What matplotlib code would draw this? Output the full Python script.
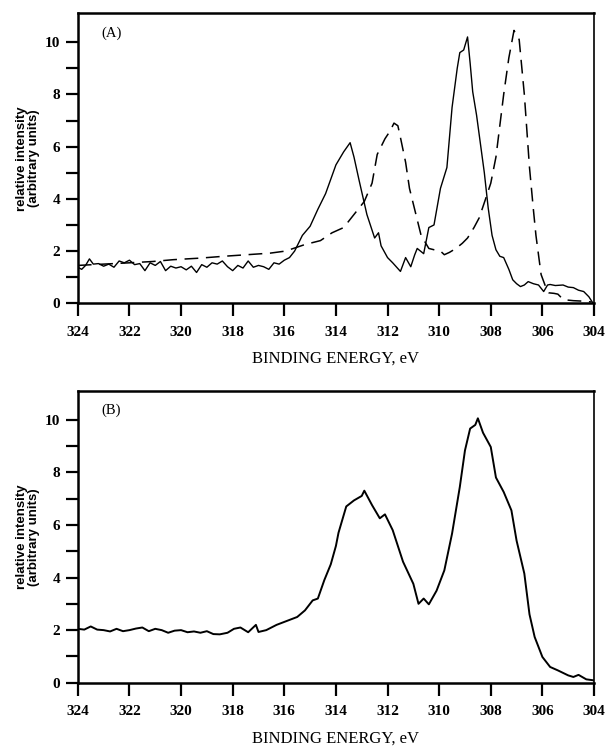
import numpy as np
from matplotlib import pyplot as plt

# ---- panel A, solid curve ----
a_solid_x = [324.0, 323.85, 323.7, 323.55, 323.4, 323.2, 323.0, 322.8, 322.6, 322.4,
             322.2, 322.0, 321.8, 321.6, 321.4, 321.2, 321.0, 320.8, 320.6, 320.4,
             320.2, 320.0, 319.8, 319.6, 319.4, 319.2, 319.0, 318.8, 318.6, 318.4,
             318.2, 318.0, 317.8, 317.6, 317.4, 317.2, 317.0, 316.8, 316.6, 316.4,
             316.2, 316.0, 315.8, 315.6, 315.5, 315.3, 315.0, 314.7, 314.4, 314.0,
             313.7, 313.45, 313.3, 313.1, 312.8, 312.5, 312.35, 312.25, 312.0, 311.8,
             311.5, 311.3, 311.1, 310.95, 310.85, 310.6, 310.4, 310.2, 309.95, 309.7,
             309.5, 309.3, 309.2, 309.05, 308.9, 308.8, 308.7, 308.55, 308.4, 308.25,
             308.1, 307.95, 307.8, 307.65, 307.5, 307.3, 307.15, 307.0, 306.85, 306.7,
             306.55, 306.35, 306.15, 305.95, 305.8, 305.7, 305.5, 305.2, 305.0, 304.8,
             304.6, 304.4, 304.2, 304.05]
a_solid_y = [1.38, 1.30, 1.45, 1.70, 1.50, 1.52, 1.42, 1.50, 1.38, 1.62,
             1.55, 1.65, 1.48, 1.52, 1.25, 1.55, 1.45, 1.60, 1.25, 1.42,
             1.35, 1.40, 1.28, 1.42, 1.18, 1.48, 1.38, 1.55, 1.50, 1.62,
             1.40, 1.25, 1.45, 1.35, 1.62, 1.38, 1.45, 1.40, 1.30, 1.55,
             1.50, 1.65, 1.75, 2.00, 2.20, 2.60, 2.95, 3.60, 4.20, 5.30,
             5.80, 6.15, 5.60, 4.70, 3.40, 2.50, 2.70, 2.20, 1.75, 1.55,
             1.22, 1.75, 1.40, 1.85, 2.10, 1.90, 2.90, 3.00, 4.40, 5.20,
             7.50, 9.00, 9.60, 9.70, 10.20, 9.20, 8.10, 7.20, 6.10, 5.00,
             3.65, 2.60, 2.05, 1.80, 1.75, 1.30, 0.90, 0.75, 0.64, 0.70,
             0.83, 0.75, 0.70, 0.45, 0.70, 0.72, 0.68, 0.70, 0.62, 0.60,
             0.50, 0.45, 0.25, 0.02]

# ---- panel A, dashed curve ----
a_dash_x = [324.0, 323.0, 322.0, 321.1, 320.3, 319.25, 318.35, 317.45, 316.55, 315.95,
            315.2, 314.6, 314.15, 313.7, 313.3, 312.9, 312.6, 312.4, 312.1, 311.9,
            311.75, 311.6, 311.5, 311.3, 311.15, 310.9, 310.7, 310.4, 310.2, 309.95,
            309.8, 309.6, 309.35, 309.1, 308.9, 308.65, 308.45, 308.2, 308.0, 307.8,
            307.65, 307.5, 307.3, 307.1, 306.9, 306.7, 306.5, 306.35, 306.25, 306.05,
            305.9, 305.75, 305.55, 305.4, 305.2, 305.0, 304.8, 304.4, 304.1]
a_dash_y = [1.45, 1.50, 1.55, 1.60, 1.67, 1.73, 1.80, 1.86, 1.92, 2.00,
            2.25, 2.40, 2.70, 2.90, 3.40, 3.90, 4.60, 5.70, 6.30, 6.60,
            6.90, 6.80, 6.35, 5.40, 4.40, 3.40, 2.60, 2.10, 2.05, 2.00,
            1.86, 1.95, 2.10, 2.30, 2.50, 2.90, 3.27, 4.00, 4.60, 5.60,
            6.80, 8.00, 9.40, 10.45, 10.10, 8.00, 5.20, 3.60, 2.60, 1.10,
            0.70, 0.40, 0.38, 0.35, 0.15, 0.12, 0.10, 0.08, 0.05]

# ---- panel B ----
b_x = [324.0, 323.75, 323.5, 323.25, 323.0, 322.75, 322.5, 322.25, 322.0, 321.75,
       321.5, 321.25, 321.0, 320.75, 320.5, 320.25, 320.0, 319.75, 319.5, 319.25,
       319.0, 318.75, 318.5, 318.2, 317.95, 317.7, 317.4, 317.1, 317.0, 316.7,
       316.3, 315.9, 315.5, 315.2, 314.9, 314.7, 314.45, 314.2, 314.0, 313.9,
       313.6, 313.3, 313.0, 312.9, 312.6, 312.3, 312.1, 311.8, 311.4, 311.0,
       310.8, 310.6, 310.4, 310.1, 309.8, 309.5, 309.2, 309.0, 308.8, 308.6,
       308.5, 308.3, 308.0, 307.8, 307.5, 307.2, 307.0, 306.7, 306.5, 306.3,
       306.0, 305.7, 305.4, 305.0, 304.8, 304.6, 304.3, 304.0]
b_y = [2.05, 2.02, 2.14, 2.02, 2.00, 1.95, 2.05, 1.96, 2.00, 2.06,
       2.10, 1.96, 2.05, 2.00, 1.90, 1.98, 2.00, 1.92, 1.95, 1.90,
       1.96, 1.85, 1.84, 1.90, 2.05, 2.10, 1.92, 2.20, 1.93, 2.00,
       2.20, 2.35, 2.50, 2.75, 3.13, 3.20, 3.90, 4.50, 5.20, 5.70,
       6.70, 6.93, 7.10, 7.30, 6.75, 6.25, 6.40, 5.80, 4.60, 3.76,
       3.00, 3.20, 2.98, 3.50, 4.27, 5.67, 7.44, 8.83, 9.66, 9.80,
       10.05, 9.50, 8.96, 7.80, 7.25, 6.55, 5.40, 4.15, 2.60, 1.74,
       0.98, 0.60, 0.47, 0.28, 0.22, 0.30, 0.13, 0.09]

x_ticks = [324, 322, 320, 318, 316, 314, 312, 310, 308, 306, 304]
y_ticks = [0, 2, 4, 6, 8, 10]

SERIF = 'Liberation Serif'


def style_axis(ax, label):
    ax.set_xlim(324, 304)
    ax.set_ylim(0, 11.1)
    ax.set_xticks(x_ticks)
    ax.set_yticks(y_ticks)
    ax.set_yticks([1, 3, 5, 7, 9], minor=True)
    ax.tick_params(axis='both', which='both', direction='out', length=9, width=1.6)
    ax.tick_params(axis='x', pad=7)
    for lab in ax.get_xticklabels() + ax.get_yticklabels():
        lab.set_fontfamily(SERIF)
        lab.set_fontweight('bold')
        lab.set_fontsize(11)
    for side in ['left', 'bottom', 'top']:
        ax.spines[side].set_linewidth(1.8)
    ax.spines['right'].set_linewidth(1.2)
    ax.set_xlabel('BINDING ENERGY, eV', family=SERIF, fontsize=12, labelpad=9)
    ax.set_ylabel('relative intensity\n(arbitrary units)', family='Liberation Sans',
                  fontweight='bold', fontsize=9.5, labelpad=4, linespacing=1.0)
    ax.text(0.045, 0.955, label, transform=ax.transAxes, family=SERIF,
            fontsize=10.5, va='top', ha='left')


fig = plt.figure(figsize=(6.08, 7.47), dpi=100)

ax1 = fig.add_axes([0.128, 0.594, 0.849, 0.388])
ax1.plot(a_solid_x, a_solid_y, '-', color='black', linewidth=1.0)
ax1.plot(a_dash_x, a_dash_y, color='black', linewidth=1.1, linestyle=(0, (9, 5)))
style_axis(ax1, '(A)')

ax2 = fig.add_axes([0.128, 0.086, 0.849, 0.391])
ax2.plot(b_x, b_y, '-', color='black', linewidth=1.4)
style_axis(ax2, '(B)')

plt.savefig('out.png', dpi=100)
